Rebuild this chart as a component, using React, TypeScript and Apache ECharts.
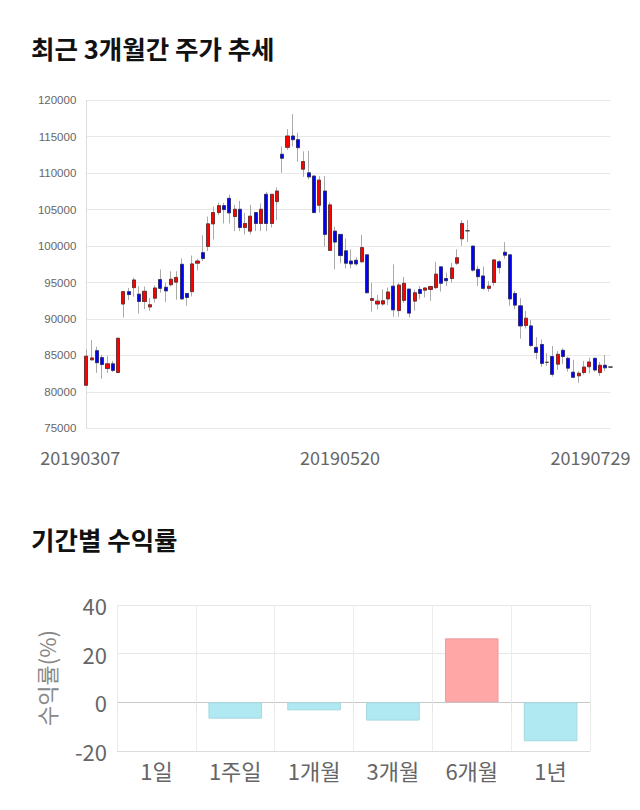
import React, { useEffect, useRef } from "react";
import * as echarts from "echarts";

const FONT = "'Noto Sans CJK KR', 'Noto Sans', sans-serif";

const dates = [
  "20190307","20190308","20190311","20190312","20190313","20190314","20190315","20190318","20190319","20190320",
  "20190321","20190322","20190325","20190326","20190327","20190328","20190329","20190401","20190402","20190403",
  "20190404","20190405","20190408","20190409","20190410","20190411","20190412","20190415","20190416","20190417",
  "20190418","20190419","20190422","20190423","20190424","20190425","20190426","20190429","20190430","20190502",
  "20190503","20190507","20190508","20190509","20190510","20190513","20190514","20190515","20190516","20190517",
  "20190520","20190521","20190522","20190523","20190524","20190527","20190528","20190529","20190530","20190531",
  "20190603","20190604","20190605","20190607","20190610","20190611","20190612","20190613","20190614","20190617",
  "20190618","20190619","20190620","20190621","20190624","20190625","20190626","20190627","20190628","20190701",
  "20190702","20190703","20190704","20190705","20190708","20190709","20190710","20190711","20190712","20190715",
  "20190716","20190717","20190718","20190719","20190722","20190723","20190724","20190725","20190726","20190729",
];

const openP = [
  80900,84400,85650,84700,83200,83850,82650,92050,93750,94300,
  93400,92400,91650,92850,95400,94350,94700,95050,97500,93500,
  93750,97650,99100,99950,103050,104600,105550,106550,104050,105050,
  102550,102050,104600,103100,107100,103100,106100,112600,113550,115100,
  114600,110550,110050,109600,105600,107550,99400,102050,101600,99350,
  97950,98050,97850,98800,92550,92050,92050,92750,94500,91150,
  92550,94100,92450,94050,93950,94050,94300,97150,95550,95550,
  97650,101000,102100,100000,96800,95900,94200,95000,97850,99150,
  98800,93500,91800,89100,89050,86100,86500,84050,84850,83800,
  85700,84600,82700,82200,82650,83450,84600,82650,83650,83400,
];
const closeP = [
  84900,84650,84000,83750,83850,82950,87350,93750,93350,95350,
  92400,93800,91950,94250,94200,93850,95450,95700,92750,92950,
  97550,97950,98300,103050,104600,105550,105000,104550,105050,102550,
  103100,104100,103100,105050,103100,107100,107550,112050,115100,114600,
  113500,111600,109500,104600,109050,101600,105650,100550,98700,97650,
  97550,97550,99800,93600,92800,92450,92500,93700,91250,94650,
  94900,90800,93600,93500,94250,94450,96150,94900,95250,97000,
  98400,103100,102100,96700,95800,94200,94500,98100,97050,98750,
  92750,91900,89050,90100,86350,85400,83900,84050,82400,85150,
  84850,83250,82000,82550,83400,84100,83000,83650,83300,83400,
];
const lowP = [
  80900,84250,82600,81800,82600,82700,82650,90200,92600,93050,
  90750,91350,91100,92250,93600,92300,94450,92650,92650,91800,
  93100,96650,97950,99300,100900,104250,103100,103100,102050,102050,
  101600,101600,102050,102050,102050,102550,103550,110050,113200,113650,
  111600,109500,109150,104500,104600,99900,99400,96800,97650,96950,
  96950,97300,97700,93500,91000,91300,91800,91900,90300,90300,
  92200,90200,91150,92700,92950,92500,94100,93750,94500,95000,
  97400,100050,100550,96500,94500,94000,93750,94550,96250,98300,
  91800,91350,87300,88700,86200,84450,83450,83550,82100,83000,
  83800,82750,81850,81250,82400,82550,82750,82200,82850,83300,
];
const highP = [
  85800,87100,86200,85050,84900,84250,87450,93850,94250,95650,
  94500,94450,92900,94600,96800,95000,96550,96550,98300,93550,
  98700,98250,101500,104050,105400,105950,105950,107050,105650,106200,
  104550,105650,104650,105850,107450,107100,108050,113650,116050,118100,
  115550,113000,113050,109750,109600,109600,106000,102650,101600,101050,
  99550,98450,101550,98800,94950,93300,94050,94300,97500,94950,
  95750,94100,94050,94500,94350,94550,97850,97150,96350,97700,
  99550,103550,103550,100000,97300,97200,95200,98200,98100,100550,
  98900,93850,92850,91100,89850,87500,87200,85300,86300,85600,
  85950,84850,84400,82850,84250,84700,84700,84100,85050,83500,
];

const priceTicks = { min: 75000, max: 120000, step: 5000 };
const labelIdx = [0, 50, 99];

const periods = ["1일", "1주일", "1개월", "3개월", "6개월", "1년"];
const returns = [0, -6.7, -3.3, -7.5, 26.3, -16.0];
const returnTicks = { min: -20, max: 40, step: 20 };

export default function App() {
  const ref = useRef<HTMLDivElement>(null);

  useEffect(() => {
    document.body.style.margin = "0";
    if (!ref.current) return;
    const chart = echarts.init(ref.current, null, { renderer: "svg" });

    const wickData = dates.map((_, i) => [openP[i], closeP[i], lowP[i], highP[i]]);
    const bodyData = dates.map((_, i) => [
      openP[i],
      closeP[i],
      Math.min(openP[i], closeP[i]),
      Math.max(openP[i], closeP[i]),
    ]);

    const labelPad: Record<number, string> = { 0: "a", 50: "b", 99: "c" };

    const option: any = {
      animation: false,
      title: [
        {
          text: "최근 3개월간 주가 추세",
          left: 31,
          top: 35,
          padding: 0,
          textStyle: { fontSize: 25.5, fontWeight: "bold", color: "#111", fontFamily: FONT },
        },
        {
          text: "기간별 수익률",
          left: 31,
          top: 526,
          padding: 0,
          textStyle: { fontSize: 25.5, fontWeight: "bold", color: "#111", fontFamily: FONT },
        },
      ],
      grid: [
        { left: 86.3, right: 29.5, top: 100.3, height: 328, outerBoundsMode: "none" },
        { left: 117, right: 50, top: 605, height: 146, outerBoundsMode: "none" },
      ],
      xAxis: [
        {
          type: "category",
          gridIndex: 0,
          data: dates,
          boundaryGap: false,
          axisLine: { show: false },
          axisTick: { show: false },
          splitLine: { show: false },
          axisLabel: {
            interval: (index: number) => labelIdx.includes(index),
            showMinLabel: true,
            showMaxLabel: true,
            hideOverlap: false,
            margin: 20,
            color: "#666",
            fontSize: 18,
            fontFamily: FONT,
            formatter: (value: string, index: number) => `{${labelPad[index] || "a"}|${value}}`,
            rich: {
              a: { padding: [0, 12, 0, 0], fontSize: 18, color: "#666", fontFamily: FONT },
              b: { padding: [0, 22, 0, 0], fontSize: 18, color: "#666", fontFamily: FONT },
              c: { padding: [0, 40, 0, 0], fontSize: 18, color: "#666", fontFamily: FONT },
            },
          },
        },
        {
          type: "category",
          gridIndex: 1,
          data: periods,
          axisLine: { show: false },
          axisTick: { show: true, length: 10, lineStyle: { color: "#e6e6e6" } },
          splitLine: { show: true, lineStyle: { color: "#ececec" } },
          axisLabel: { margin: 8, color: "#666", fontSize: 22, fontFamily: FONT },
        },
      ],
      yAxis: [
        {
          type: "value",
          gridIndex: 0,
          min: priceTicks.min,
          max: priceTicks.max,
          interval: priceTicks.step,
          axisLine: { show: true, lineStyle: { color: "#ddd" } },
          axisTick: { show: false },
          splitLine: { lineStyle: { color: "#e8e8e8" } },
          axisLabel: {
            margin: 10,
            color: "#666",
            fontSize: 11.5,
            fontFamily: "'Liberation Sans', Arial, sans-serif",
            formatter: (v: number) => String(v),
          },
        },
        {
          type: "value",
          gridIndex: 1,
          min: returnTicks.min,
          max: returnTicks.max,
          interval: returnTicks.step,
          name: "수익률(%)",
          nameLocation: "middle",
          nameRotate: 90,
          nameGap: 60,
          nameTextStyle: { fontSize: 22, color: "#888", fontFamily: FONT },
          axisLine: { show: false },
          axisTick: { show: false },
          splitLine: { lineStyle: { color: ["#dcdcdc", "#c8c8c8", "#e8e8e8", "#e8e8e8"] } },
          axisLabel: { margin: 10, color: "#666", fontSize: 22, fontFamily: FONT },
        },
      ],
      series: [
        {
          type: "candlestick",
          xAxisIndex: 0,
          yAxisIndex: 0,
          data: wickData,
          barWidth: 3.6,
          clip: true,
          itemStyle: {
            color: "rgba(0,0,0,0)",
            color0: "rgba(0,0,0,0)",
            borderColor: "#aaa",
            borderColor0: "#aaa",
            borderColorDoji: "#aaa",
            borderWidth: 1,
          },
        },
        {
          type: "candlestick",
          xAxisIndex: 0,
          yAxisIndex: 0,
          data: bodyData,
          barWidth: 3.6,
          clip: true,
          itemStyle: {
            color: "#ff0000",
            color0: "#0000ff",
            borderColor: "#5a2a2a",
            borderColor0: "#2a2a5a",
            borderColorDoji: "#333",
            borderWidth: 0.8,
          },
        },
        {
          type: "bar",
          xAxisIndex: 1,
          yAxisIndex: 1,
          barWidth: "68%",
          data: returns.map((v) => ({
            value: v,
            itemStyle:
              v === 0
                ? { color: "rgba(0,0,0,0)", borderWidth: 0 }
                : v > 0
                ? { color: "#ffa6a6", borderColor: "#e9a0a0", borderWidth: 1 }
                : { color: "#b0e9f2", borderColor: "#a3d8e0", borderWidth: 1 },
          })),
        },
      ],
    };

    chart.setOption(option);
    return () => chart.dispose();
  }, []);

  return <div ref={ref} style={{ width: 640, height: 810 }} />;
}
